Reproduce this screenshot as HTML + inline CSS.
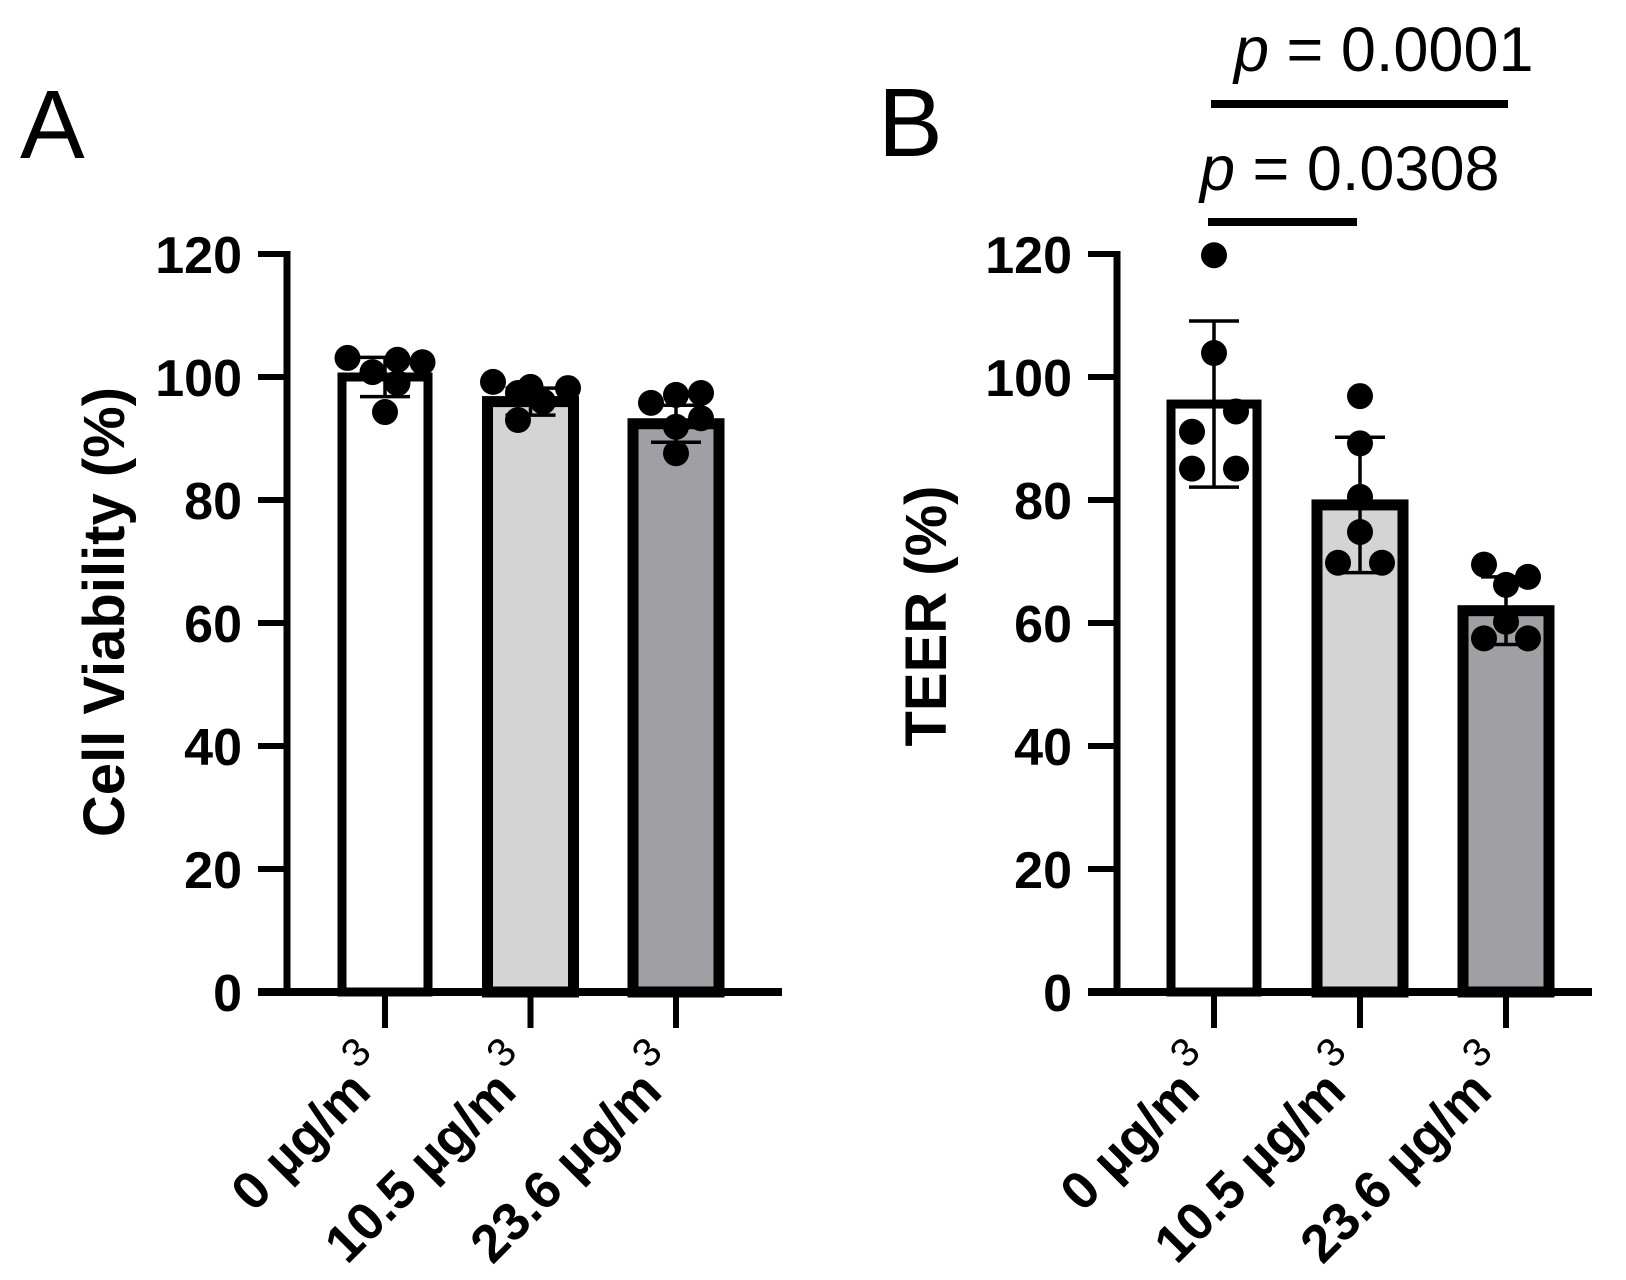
<!DOCTYPE html>
<html><head><meta charset="utf-8"><style>
html,body{margin:0;padding:0;background:#fff;}
svg{display:block;font-family:"Liberation Sans",Arial,sans-serif;}
</style></head><body>
<svg id="fig" width="1626" height="1280" viewBox="0 0 1626 1280" xmlns="http://www.w3.org/2000/svg">
<text x="20" y="158" font-size="97">A</text>
<text x="878" y="156" font-size="97">B</text>
<text transform="translate(124,612) rotate(-90)" text-anchor="middle" font-size="58" font-weight="bold">Cell Viability (%)</text>
<text transform="translate(946,616) rotate(-90)" text-anchor="middle" font-size="58" font-weight="bold">TEER (%)</text>
<g id="gA"></g>
<g id="gB"></g>
<g>
<line x1="1208" y1="222" x2="1357" y2="222" stroke="#000" stroke-width="8"/>
<text x="1200" y="190" font-size="63"><tspan font-style="italic">p</tspan> = 0.0308</text>
<line x1="1211" y1="104" x2="1508" y2="104" stroke="#000" stroke-width="8"/>
<text x="1234" y="71" font-size="63"><tspan font-style="italic">p</tspan> = 0.0001</text>
</g>
</svg>
<script>
const categories = ["0 µg/m", "10.5 µg/m", "23.6 µg/m"];
const yTicks = [0, 20, 40, 60, 80, 100, 120];
const meansA = [100, 96, 92.4];
const sdA = [3.2, 2.2, 3.0];
const pointsA0 = [103.1, 100.8, 102.8, 102.4, 99, 94.3];
const pointsA1 = [99.2, 97.4, 98.4, 96, 98.2, 93];
const pointsA2 = [95.8, 97.1, 97.4, 91.9, 93.3, 87.6];
const meansB = [95.6, 79.2, 62];
const sdB = [13.5, 11, 5.5];
const pointsB0 = [119.8, 103.9, 94.4, 91.1, 85.1, 85.1];
const pointsB1 = [96.9, 89.2, 80.5, 74.8, 69.8, 69.8];
const pointsB2 = [69.5, 66.2, 67.5, 60.2, 57.5, 57.5];
const jitterA = [-1.5, -0.5, 0.5, 1.5, 0.5, 0];
const jitterB0 = [0, 0, 1, -1, -1, 1];
const jitterB1 = [0, 0, 0, 0, -1, 1];
const jitterB2 = [-1, 0, 1, 0, -1, 1];
const fills = ["#ffffff", "#d4d4d4", "#a0a0a4"];

const NS = "http://www.w3.org/2000/svg";
function mk(parent, tag, attrs) {
  const e = document.createElementNS(NS, tag);
  for (const k in attrs) e.setAttribute(k, attrs[k]);
  parent.appendChild(e);
  return e;
}
function drawPanel(gId, cfg) {
  const g = document.getElementById(gId);
  const y = v => cfg.y0 - v * cfg.k;
  const x = i => cfg.x0 + i * cfg.step;
  const ya = mk(g, "line", {x1: cfg.ax, y1: y(120) - 3, x2: cfg.ax, y2: y(0), stroke: "#000", "stroke-width": 7});
  
  
  yTicks.forEach(t => {
    const tl = mk(g, "line", {x1: cfg.ax - 29, y1: y(t), x2: cfg.ax, y2: y(t), stroke: "#000", "stroke-width": 6});
    
    
    const tx = mk(g, "text", {x: cfg.ax - 45, y: y(t) + 19, "text-anchor": "end", "font-size": 52, "font-weight": "bold"});
    tx.textContent = t;
    
    
  });
  const xa = mk(g, "line", {x1: cfg.ax - 29, y1: y(0), x2: cfg.xEnd, y2: y(0), stroke: "#000", "stroke-width": 8});
  
  
  categories.forEach((c, i) => {
    const cx = x(i);
    const bw = 86;
    const r = mk(g, "rect", {x: cx - bw / 2, y: y(cfg.means[i]), width: bw, height: y(0) - y(cfg.means[i]), fill: fills[i], stroke: "#000", "stroke-width": i === 0 ? 9 : 11});
    
    
    const hi = y(cfg.means[i] + cfg.sd[i]), lo = y(cfg.means[i] - cfg.sd[i]);
    const eb = mk(g, "path", {d: `M${cx},${hi}V${lo}M${cx - 25},${hi}H${cx + 25}M${cx - 25},${lo}H${cx + 25}`, stroke: "#000", "stroke-width": 3.5, fill: "none"});
    
    
    cfg.points[i].forEach((v, j) => {
      const d = mk(g, "circle", {cx: cx + cfg.jit[i][j] * cfg.jw, cy: y(v), r: 13, fill: "#000"});
      
      
    });
    const xt = mk(g, "line", {x1: cx, y1: y(0), x2: cx, y2: y(0) + 36, stroke: "#000", "stroke-width": 6});
    
    
    const lab = mk(g, "text", {transform: `translate(${cx + 8},${y(0) + 82}) rotate(-45)`, "text-anchor": "end", "font-size": 53, "font-weight": "bold"});
    
    
    const t1 = mk(lab, "tspan", {});
    t1.textContent = c;
    const t2 = mk(lab, "tspan", {dy: -28, dx: 6, "font-weight": "normal", "font-size": 40});
    t2.textContent = "3";
  });
}
drawPanel("gA", {ax: 287, y0: 992, k: 6.15, x0: 385, step: 145.5, xEnd: 782, means: meansA, sd: sdA,
  points: [pointsA0, pointsA1, pointsA2], jit: [jitterA, [-1.5, -0.5, 0, 0.5, 1.5, -0.5], [-1, 0, 1, 0, 1, 0]], jw: 25});
drawPanel("gB", {ax: 1117, y0: 992, k: 6.15, x0: 1214, step: 146, xEnd: 1592, means: meansB, sd: sdB,
  points: [pointsB0, pointsB1, pointsB2], jit: [jitterB0, jitterB1, jitterB2], jw: 22});
</script>
</body></html>
